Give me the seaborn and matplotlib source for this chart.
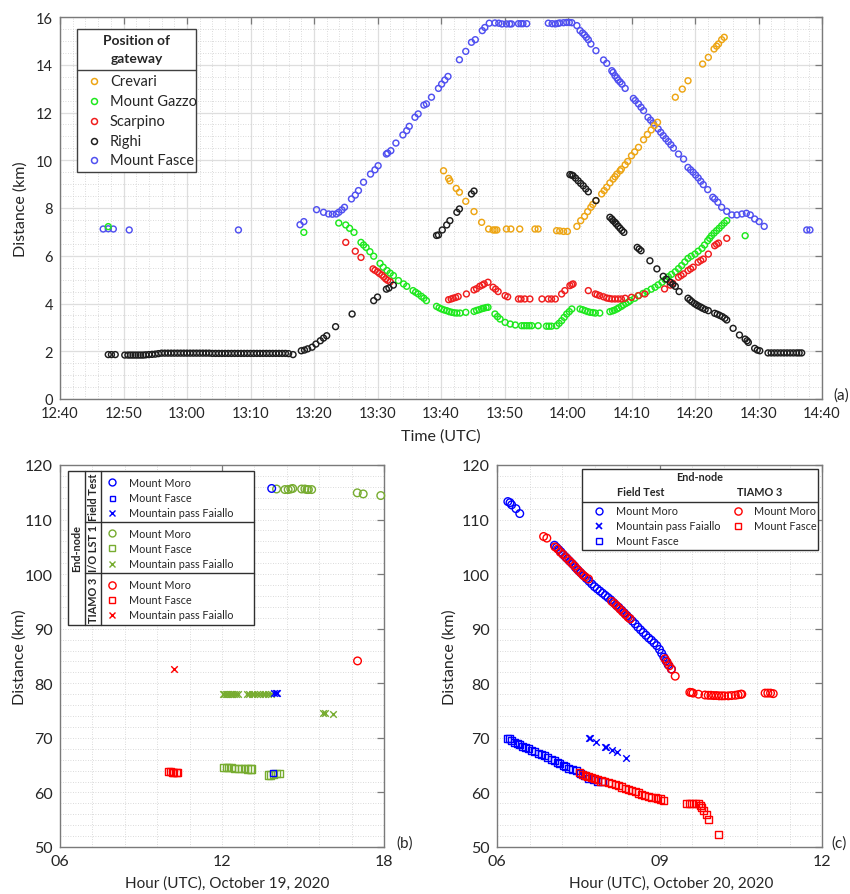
import numpy as np
import pandas as pd
import matplotlib
matplotlib.use("Agg")
import matplotlib.pyplot as plt
from matplotlib.ticker import MultipleLocator, FuncFormatter
from matplotlib.lines import Line2D
from matplotlib.patches import Rectangle
import seaborn as sns

# ---------------------------------------------------------------- data (a)
# time in minutes after 12:00 UTC, distance in km
righi_t = [47.6, 48.1, 48.7, 50.2, 50.7, 51.1, 51.5, 51.9, 52.3, 52.7, 53.1, 53.5,
           54.0, 54.5, 55.0, 55.5, 56.0, 56.5, 57.0, 57.5, 58.0, 58.5, 59.0, 59.5,
           60.0, 60.5, 61.0, 61.5, 62.0, 62.5, 63.0, 63.5, 64.0, 64.5, 65.0, 65.5,
           66.0, 66.5, 67.0, 67.5, 68.0, 68.5, 69.0, 69.5, 70.0, 70.5, 71.0, 71.5,
           72.0, 72.5, 73.0, 73.5, 74.0, 74.5, 75.0, 75.5, 76.0, 76.7,
           78.0, 78.5, 79.0, 79.7, 80.3, 81.0, 81.5, 82.0, 83.4, 86.0, 89.4, 90.0,
           91.4, 91.8, 92.5,
           99.3, 99.6, 100.2, 100.9, 101.4, 102.5, 102.9, 104.8, 105.2,
           120.3, 120.6, 120.8, 121.2, 121.6, 122.0, 122.4, 122.8, 123.2, 124.4,
           126.6, 126.9, 127.1, 127.4, 127.6, 127.9, 128.2, 128.5, 128.8,
           130.9, 131.2, 131.5, 132.9, 134.0, 135.0, 135.5, 136.1, 136.5, 136.9, 137.5,
           138.9, 139.2, 139.5, 139.9, 140.2, 140.5, 140.9, 141.2, 141.6, 142.1,
           143.1, 143.5, 143.9, 144.3, 144.7, 145.0,
           146.0, 147.0, 147.9, 148.2, 148.4, 149.4, 149.8, 150.2,
           151.5, 152.0, 152.5, 153.0, 153.5, 154.0, 154.5, 155.0, 155.5, 156.0,
           156.4, 156.8]
righi_d = [1.86, 1.86, 1.86, 1.84, 1.84, 1.84, 1.84, 1.84, 1.84, 1.84, 1.84, 1.85,
           1.86, 1.87, 1.88, 1.90, 1.92, 1.92, 1.92, 1.92, 1.92, 1.92, 1.92, 1.92,
           1.92, 1.92, 1.92, 1.92, 1.92, 1.92, 1.92, 1.92, 1.91, 1.91, 1.91, 1.91,
           1.91, 1.91, 1.91, 1.91, 1.91, 1.91, 1.91, 1.91, 1.91, 1.91, 1.91, 1.91,
           1.91, 1.91, 1.91, 1.91, 1.91, 1.91, 1.91, 1.91, 1.90, 1.86,
           2.02, 2.05, 2.10, 2.17, 2.30, 2.44, 2.55, 2.65, 3.03, 3.56, 4.12, 4.27,
           4.60, 4.65, 4.77,
           6.85, 6.87, 7.08, 7.29, 7.47, 7.82, 7.96, 8.59, 8.71,
           9.40, 9.38, 9.35, 9.25, 9.14, 9.03, 8.93, 8.80, 8.68, 8.31,
           7.61, 7.54, 7.47, 7.40, 7.33, 7.24, 7.15, 7.06, 6.98,
           6.35, 6.28, 6.21, 5.79, 5.45, 5.14, 5.02, 4.89, 4.80, 4.72, 4.50,
           4.22, 4.15, 4.08, 4.00, 3.95, 3.90, 3.85, 3.80, 3.75, 3.70,
           3.59, 3.55, 3.50, 3.45, 3.38, 3.31,
           2.96, 2.68, 2.51, 2.44, 2.37, 2.12, 2.05, 2.02,
           1.93, 1.93, 1.93, 1.93, 1.93, 1.93, 1.93, 1.93, 1.93, 1.93,
           1.93, 1.93]

fasce_t = [46.8, 47.6, 48.4, 50.9, 68.1, 77.8, 78.4, 80.4, 81.5, 82.3, 82.9, 83.5,
           83.9, 84.4, 84.8, 85.9, 86.5, 87.0, 87.8, 88.9, 89.6, 90.1, 91.4, 91.6,
           92.1, 92.9, 94.0, 94.6, 95.0, 95.9, 96.4, 97.3, 97.7, 98.5, 99.6, 100.1,
           100.6, 101.1, 102.9, 103.9, 104.8, 105.4, 106.5, 106.9, 107.6, 108.5,
           109.1, 109.6, 110.3, 110.8, 111.1, 112.2, 112.6, 112.9, 113.5,
           116.9, 117.5, 118.0, 118.4, 118.7, 119.3, 119.8, 120.2, 120.6,
           121.4, 121.9, 122.3, 122.6, 122.9, 123.2, 123.6, 124.4, 125.6, 126.1,
           126.9, 127.1, 127.4, 127.7, 127.9, 128.2, 128.5, 129.0,
           130.3, 130.6, 131.1, 131.5, 131.9, 132.6, 133.0, 133.4, 134.2, 134.6,
           135.0, 135.4, 135.8, 136.2, 136.6, 137.4, 138.2, 138.9, 139.3, 139.7,
           140.1, 140.5, 140.9, 141.3, 142.0, 142.8, 143.1, 143.6, 144.2, 145.0,
           145.8, 146.6, 147.4, 148.1, 148.7, 149.4, 150.1, 150.9, 157.6, 158.1]
fasce_d = [7.12, 7.13, 7.12, 7.08, 7.08, 7.30, 7.43, 7.93, 7.82, 7.75, 7.74, 7.75,
           7.82, 7.92, 8.03, 8.38, 8.54, 8.73, 9.08, 9.42, 9.60, 9.77, 10.26, 10.30,
           10.40, 10.72, 11.06, 11.24, 11.42, 11.80, 11.94, 12.31, 12.36, 12.64, 13.01, 13.19,
           13.36, 13.51, 14.21, 14.56, 14.94, 15.05, 15.43, 15.56, 15.74, 15.75,
           15.74, 15.71, 15.71, 15.71, 15.71, 15.72, 15.72, 15.72, 15.72,
           15.74, 15.72, 15.71, 15.73, 15.75, 15.76, 15.77, 15.77, 15.76,
           15.64, 15.43, 15.33, 15.25, 15.15, 15.05, 14.87, 14.59, 14.20, 14.06,
           13.75, 13.68, 13.54, 13.45, 13.36, 13.28, 13.19, 13.01,
           12.59, 12.50, 12.36, 12.22, 12.08, 11.80, 11.68, 11.56, 11.31, 11.17,
           11.03, 10.90, 10.78, 10.65, 10.51, 10.26, 10.05, 9.70, 9.60, 9.50,
           9.38, 9.26, 9.12, 8.98, 8.77, 8.45, 8.38, 8.24, 8.03, 7.86,
           7.71, 7.71, 7.75, 7.78, 7.71, 7.54, 7.43, 7.23, 7.08, 7.08]

crevari_t = [100.4, 101.2, 101.4, 102.4, 102.9, 103.9, 105.2, 106.4, 107.5, 108.2,
             108.5, 108.8, 110.3, 111.0, 112.4, 114.8, 115.3, 118.2, 118.7, 119.3,
             119.9, 121.4, 122.0, 122.6, 123.1, 123.6, 123.9, 124.4, 125.3, 125.7,
             126.1, 126.6, 127.1, 127.4, 127.7, 128.2, 128.4, 129.0, 129.4, 130.0,
             130.5, 131.1, 131.9, 132.5, 133.1, 133.6, 134.1,
             136.9, 138.0, 138.9, 141.2, 142.1, 143.0, 143.4, 143.7, 144.2, 144.6]
crevari_d = [9.56, 9.24, 9.14, 8.82, 8.66, 8.28, 7.85, 7.40, 7.12, 7.08,
             7.08, 7.08, 7.12, 7.12, 7.12, 7.12, 7.12, 7.05, 7.04, 7.02,
             7.02, 7.23, 7.47, 7.65, 7.85, 8.03, 8.15, 8.31, 8.59, 8.73,
             8.87, 9.05, 9.21, 9.31, 9.42, 9.56, 9.63, 9.81, 9.95, 10.19,
             10.35, 10.54, 10.86, 11.08, 11.27, 11.45, 11.59,
             12.64, 12.98, 13.33, 14.03, 14.31, 14.66, 14.78, 14.87, 15.05, 15.15]

gazzo_t = [47.6, 78.4, 83.9, 85.0, 85.6, 86.3, 87.4, 87.8, 88.2, 88.8, 89.4, 90.4,
           90.9, 91.5, 92.0, 92.5, 93.3, 94.1, 94.6, 95.6, 96.0, 96.4, 96.9, 97.3,
           97.7, 99.3, 99.7, 100.1, 100.5, 100.9, 101.3, 101.7, 102.1, 102.5, 103.0,
           103.9, 105.2, 105.6, 106.0, 106.4, 106.7, 107.1, 107.4, 108.5, 108.9,
           109.3, 110.1, 110.9, 111.7, 112.7, 113.1, 113.5, 113.9, 114.3, 115.3,
           116.6, 117.0, 117.4, 118.2, 118.6, 119.0, 119.4, 119.8, 120.2, 120.6,
           121.9, 122.3, 122.7, 123.1, 123.5, 123.9, 124.3, 125.0,
           126.6, 127.0, 127.3, 127.7, 128.0, 128.4, 128.7, 129.1, 129.5, 129.8,
           130.5, 131.1, 131.8, 132.4, 133.1, 133.7, 134.2, 134.8, 135.3, 135.8,
           136.3, 136.9, 137.4, 137.9, 138.4, 138.9, 139.4, 140.0, 140.5, 141.1,
           141.5, 142.0, 142.3, 142.6, 143.0, 143.4, 143.8, 144.2, 144.6, 145.0,
           147.9]
gazzo_d = [7.22, 6.98, 7.37, 7.29, 7.15, 6.98, 6.56, 6.45, 6.35, 6.17, 5.98, 5.68,
           5.52, 5.38, 5.27, 5.17, 4.96, 4.82, 4.72, 4.54, 4.47, 4.40, 4.30, 4.22,
           4.12, 3.88, 3.82, 3.77, 3.73, 3.70, 3.66, 3.63, 3.61, 3.60, 3.60,
           3.63, 3.67, 3.71, 3.74, 3.78, 3.80, 3.83, 3.84, 3.56, 3.45,
           3.35, 3.21, 3.14, 3.10, 3.07, 3.07, 3.07, 3.07, 3.07, 3.07,
           3.05, 3.05, 3.05, 3.07, 3.17, 3.28, 3.42, 3.56, 3.66, 3.77,
           3.77, 3.74, 3.70, 3.66, 3.63, 3.62, 3.60, 3.60,
           3.66, 3.69, 3.72, 3.77, 3.82, 3.88, 3.94, 4.00, 4.06, 4.12,
           4.22, 4.33, 4.42, 4.50, 4.60, 4.68, 4.78, 4.89, 5.00, 5.12,
           5.22, 5.33, 5.46, 5.59, 5.74, 5.89, 5.98, 6.07, 6.19, 6.31,
           6.45, 6.63, 6.73, 6.84, 6.95, 7.05, 7.15, 7.26, 7.37, 7.47,
           6.84]

scarpino_t = [85.0, 86.5, 87.4, 89.3, 89.6, 90.0, 90.3, 90.7, 91.0, 91.3, 91.6, 92.0,
              101.2, 101.6, 101.9, 102.3, 102.7, 104.0, 105.2, 105.6, 106.1, 106.5,
              106.8, 107.4, 108.2, 108.6, 109.0, 110.1, 110.5, 112.2, 112.6, 113.2,
              114.0, 115.9, 116.9, 117.4, 118.0, 119.0, 119.5, 120.3, 120.6, 120.8,
              123.2, 124.3, 124.6, 125.0, 125.6, 126.1, 126.5, 126.9, 127.4, 127.9,
              128.4, 129.0, 130.0, 131.1, 132.1,
              135.2, 136.1, 136.5, 137.4, 137.8, 138.2, 138.9, 139.3, 139.7, 140.5,
              140.9, 141.3, 142.1, 143.1, 143.4, 143.7, 145.0]
scarpino_d = [6.56, 6.19, 5.93, 5.45, 5.39, 5.33, 5.26, 5.19, 5.11, 5.03, 4.97, 4.91,
              4.16, 4.19, 4.22, 4.25, 4.29, 4.40, 4.57, 4.62, 4.72, 4.77,
              4.82, 4.89, 4.68, 4.60, 4.50, 4.33, 4.28, 4.19, 4.19, 4.19,
              4.19, 4.19, 4.19, 4.19, 4.19, 4.40, 4.54, 4.75, 4.79, 4.82,
              4.54, 4.40, 4.37, 4.33, 4.28, 4.23, 4.21, 4.19, 4.19, 4.19,
              4.19, 4.22, 4.26, 4.33, 4.40,
              4.61, 4.77, 4.85, 5.10, 5.17, 5.24, 5.38, 5.45, 5.52, 5.73,
              5.80, 5.86, 6.07, 6.42, 6.48, 6.53, 6.73]

gateways = ["Crevari", "Mount Gazzo", "Scarpino", "Righi", "Mount Fasce"]
gateway_colors = {"Crevari": "#EDA514", "Mount Gazzo": "#1EE81E",
                  "Scarpino": "#F01E1E", "Righi": "#1E1E1E", "Mount Fasce": "#5050F0"}

# ---------------------------------------------------------------- data (b)
# hour (UTC) of October 19, distance in km
b_ft_moro_h, b_ft_moro_d = [13.84], [115.7]
b_ft_fasce_h, b_ft_fasce_d = [13.90], [63.6]
b_ft_faiallo_h, b_ft_faiallo_d = [13.93, 14.00, 14.05], [78.2, 78.3, 78.2]

b_io_moro_h = [14.02, 14.33, 14.45, 14.55, 14.62, 14.95, 15.07, 15.15, 15.20, 15.32,
               17.01, 17.23, 17.88]
b_io_moro_d = [115.6, 115.5, 115.5, 115.6, 115.7, 115.6, 115.6, 115.5, 115.5, 115.5,
               114.9, 114.7, 114.4]
b_io_fasce_h = [12.07, 12.15, 12.25, 12.35, 12.45, 12.60, 12.72, 12.85, 12.95, 13.05,
                13.10, 13.72, 13.80, 13.90, 14.00, 14.12]
b_io_fasce_d = [64.5, 64.5, 64.5, 64.5, 64.4, 64.4, 64.4, 64.4, 64.3, 64.3,
                64.3, 63.2, 63.2, 63.3, 63.4, 63.4]
b_io_faiallo_h = [12.03, 12.08, 12.13, 12.18, 12.23, 12.28, 12.33, 12.38, 12.45, 12.52,
                  12.60, 12.91, 13.00, 13.10, 13.20, 13.30, 13.40, 13.50, 13.60, 13.70,
                  13.80, 15.73, 15.80, 16.10]
b_io_faiallo_d = [78.1, 78.1, 78.1, 78.1, 78.1, 78.1, 78.1, 78.1, 78.1, 78.1,
                  78.1, 78.0, 78.0, 78.0, 78.0, 78.0, 78.0, 78.0, 78.0, 78.0,
                  78.0, 74.6, 74.6, 74.4]

b_tm_moro_h, b_tm_moro_d = [17.02], [84.1]
b_tm_fasce_h = [10.01, 10.08, 10.15, 10.22, 10.30, 10.34]
b_tm_fasce_d = [63.8, 63.8, 63.7, 63.7, 63.6, 63.6]
b_tm_faiallo_h, b_tm_faiallo_d = [10.23], [82.7]

# ---------------------------------------------------------------- data (c)
# hour (UTC) of October 20, distance in km
c_ft_moro_h = [6.20, 6.24, 6.27, 6.35, 6.42,
               7.06, 7.10, 7.14, 7.18, 7.22, 7.26, 7.30, 7.35, 7.40, 7.45, 7.50, 7.55,
               7.60, 7.65, 7.70, 7.75, 7.80, 7.85, 7.90, 7.95, 8.00, 8.05, 8.10, 8.15,
               8.20, 8.25, 8.30, 8.35, 8.40, 8.45, 8.50, 8.55, 8.60, 8.65, 8.70, 8.75,
               8.80, 8.85, 8.90, 8.95, 9.00, 9.04, 9.08, 9.12, 9.16, 9.22]
c_ft_moro_d = [113.3, 113.1, 112.7, 112.0, 111.1,
               105.3, 104.9, 104.5, 104.1, 103.6, 103.2, 102.8, 102.3, 101.8, 101.2, 100.7, 100.2,
               99.7, 99.2, 98.7, 98.2, 97.7, 97.3, 96.9, 96.5, 96.1, 95.7, 95.3, 94.8,
               94.3, 93.9, 93.4, 92.9, 92.4, 91.9, 91.4, 90.9, 90.3, 89.8, 89.3, 88.8,
               88.3, 87.9, 87.4, 86.9, 86.2, 85.5, 84.8, 84.1, 83.4, 82.6]
c_ft_faiallo_h = [7.69, 7.71, 7.82, 7.99, 8.02, 8.12, 8.21, 8.39]
c_ft_faiallo_d = [69.9, 70.0, 69.2, 68.4, 68.3, 67.7, 67.4, 66.3]
c_ft_fasce_h = [6.20, 6.23, 6.27, 6.32, 6.37, 6.42, 6.47, 6.52, 6.58, 6.64, 6.70, 6.76,
                6.82, 6.88, 6.94, 7.01, 7.06, 7.11, 7.16, 7.22, 7.27, 7.32, 7.40, 7.47,
                7.55, 7.62, 7.69, 7.78, 7.86, 7.94]
c_ft_fasce_d = [69.9, 69.8, 69.5, 69.2, 68.9, 68.7, 68.5, 68.3, 68.0, 67.7, 67.5, 67.2,
                66.9, 66.7, 66.4, 66.1, 65.8, 65.5, 65.3, 65.0, 64.7, 64.4, 64.2, 64.0,
                63.5, 63.1, 62.6, 62.3, 62.1, 62.0]

c_tm_moro_h = [6.86, 6.92,
               7.07, 7.12, 7.17, 7.22, 7.28, 7.33, 7.38, 7.43, 7.48, 7.53, 7.58, 7.63, 7.69,
               8.12, 8.17, 8.22, 8.27, 8.32, 8.37, 8.42, 8.46,
               9.10, 9.14, 9.18, 9.22, 9.29,
               9.56, 9.59, 9.62, 9.72, 9.84, 9.90, 9.95, 10.00, 10.05, 10.10, 10.15,
               10.20, 10.27, 10.33, 10.40, 10.45, 10.50, 10.52,
               10.95, 11.00, 11.05, 11.10]
c_tm_moro_d = [106.9, 106.6,
               105.0, 104.6, 104.0, 103.6, 103.0, 102.5, 102.0, 101.5, 100.9, 100.4, 99.9, 99.5, 99.1,
               95.0, 94.6, 94.1, 93.6, 93.1, 92.6, 92.1, 91.8,
               84.5, 83.9, 83.2, 82.6, 81.3,
               78.35, 78.3, 78.2, 78.0, 77.85, 77.8, 77.8, 77.75, 77.75, 77.7, 77.7,
               77.7, 77.7, 77.75, 77.8, 77.9, 78.0, 78.0,
               78.2, 78.2, 78.2, 78.1]
c_tm_fasce_h = [7.53, 7.58, 7.63, 7.68, 7.74, 7.80, 7.86, 7.92, 7.99, 8.06, 8.12, 8.18,
                8.24, 8.30, 8.37, 8.43, 8.49, 8.55, 8.61, 8.67, 8.73, 8.80, 8.86, 8.92,
                8.97, 9.02, 9.07,
                9.50, 9.55, 9.60, 9.66, 9.72, 9.75, 9.78, 9.81, 9.86, 9.90, 10.09]
c_tm_fasce_d = [63.6, 63.3, 63.1, 62.9, 62.7, 62.5, 62.3, 62.1, 62.0, 61.9, 61.6, 61.4,
                61.2, 61.0, 60.8, 60.5, 60.3, 60.1, 59.9, 59.7, 59.5, 59.3, 59.1, 59.0,
                58.9, 58.8, 58.6,
                57.9, 57.9, 57.9, 57.9, 57.9, 57.6, 57.3, 56.7, 56.0, 55.1, 52.3]

BLUE, GREEN, RED = "#0000FF", "#77AC30", "#FF0000"

# ---------------------------------------------------------------- style
sns.set_style("white")
plt.rcParams["font.family"] = ["Lato", "DejaVu Sans"]
plt.rcParams["text.color"] = "#262626"
plt.rcParams["axes.labelcolor"] = "#262626"
TXT = "#262626"
SPINE = "#7a7a7a"

fig = plt.figure(figsize=(8.5, 8.95), dpi=100)
W, H = 850.0, 895.0


def px_axes(x0, y0, x1, y1):
    return fig.add_axes([x0 / W, 1 - y1 / H, (x1 - x0) / W, (y1 - y0) / H])


def hollow(ax, x, y, color, marker="o", s=17, lw=1.0, zorder=3):
    df = pd.DataFrame({"x": x, "y": y})
    if marker == "x":
        sns.scatterplot(data=df, x="x", y="y", ax=ax, marker="x", color=color,
                        s=s, linewidth=lw, legend=False, zorder=zorder, clip_on=False)
    else:
        sns.scatterplot(data=df, x="x", y="y", ax=ax, marker=marker, color=color,
                        facecolor="none", edgecolor=color, s=s, linewidth=lw,
                        legend=False, zorder=zorder, clip_on=False)


def frame(ax):
    for sp in ax.spines.values():
        sp.set_color(SPINE)
        sp.set_linewidth(1.0)
    ax.tick_params(which="major", direction="in", length=5, width=0.9, color=SPINE,
                   top=True, right=True, labelsize=10.5, labelcolor=TXT, pad=5)
    ax.tick_params(which="minor", length=0, top=True, right=True)
    ax.set_axisbelow(True)


# ---------------------------------------------------------------- panel (a)
ax_a = px_axes(60, 18, 822, 400)
for g, t, d in [("Mount Fasce", fasce_t, fasce_d), ("Crevari", crevari_t, crevari_d),
                ("Mount Gazzo", gazzo_t, gazzo_d), ("Scarpino", scarpino_t, scarpino_d),
                ("Righi", righi_t, righi_d)]:
    hollow(ax_a, t, d, gateway_colors[g], s=18, lw=1.05)

ax_a.set_xlim(40, 160)
ax_a.set_ylim(0, 16)
ax_a.xaxis.set_major_locator(MultipleLocator(10))
ax_a.xaxis.set_minor_locator(MultipleLocator(2))
ax_a.yaxis.set_major_locator(MultipleLocator(2))
ax_a.yaxis.set_minor_locator(MultipleLocator(0.5))
ax_a.xaxis.set_major_formatter(FuncFormatter(
    lambda v, p: f"{12 + int(v) // 60:02d}:{int(v) % 60:02d}"))
ax_a.grid(which="major", color="#dedede", linewidth=0.9, linestyle="-")
ax_a.grid(which="minor", color="#cfcfcf", linewidth=0.6, linestyle=(0, (1, 2)))
frame(ax_a)
ax_a.set_xlabel("Time (UTC)", fontsize=11.5)
ax_a.set_ylabel("Distance (km)", fontsize=11.5)
ax_a.xaxis.set_label_coords(0.5, -0.076)
ax_a.yaxis.set_label_coords(-0.042, 0.5)

# legend of panel (a)
tr = ax_a.transAxes
ax_a.add_patch(Rectangle((0.0223, 0.5942), 0.1562, 0.3744, transform=tr,
                         facecolor="white", edgecolor="#404040", linewidth=1.0, zorder=10))
ax_a.add_line(Line2D([0.0223, 0.1785], [0.8613, 0.8613], transform=tr,
                     color="#404040", linewidth=1.0, zorder=11))
ax_a.text(0.1004, 0.916, "Position of\ngateway", transform=tr, ha="center", va="center",
          fontsize=10, fontweight="bold", linespacing=1.55, zorder=12)
for yy, g in zip([0.8325, 0.780, 0.7277, 0.6754, 0.6257], gateways):
    ax_a.plot([0.0442], [yy], transform=tr, marker="o", markersize=4.3, linestyle="none",
              markerfacecolor="none", markeredgecolor=gateway_colors[g],
              markeredgewidth=1.1, zorder=12, clip_on=False)
    ax_a.text(0.0656, yy, g, transform=tr, ha="left", va="center", fontsize=10.5, zorder=12)

fig.text(841 / W, 1 - 396 / H, "(a)", ha="center", va="center", fontsize=11, color=TXT)

# ---------------------------------------------------------------- panel (b)
ax_b = px_axes(60, 466, 384, 848)
hollow(ax_b, b_io_moro_h, b_io_moro_d, GREEN, "o", s=30)
hollow(ax_b, b_io_fasce_h, b_io_fasce_d, GREEN, "s", s=26)
hollow(ax_b, b_io_faiallo_h, b_io_faiallo_d, GREEN, "x", s=22)
hollow(ax_b, b_tm_moro_h, b_tm_moro_d, RED, "o", s=30)
hollow(ax_b, b_tm_fasce_h, b_tm_fasce_d, RED, "s", s=26)
hollow(ax_b, b_tm_faiallo_h, b_tm_faiallo_d, RED, "x", s=22)
hollow(ax_b, b_ft_moro_h, b_ft_moro_d, BLUE, "o", s=30)
hollow(ax_b, b_ft_fasce_h, b_ft_fasce_d, BLUE, "s", s=18)
hollow(ax_b, b_ft_faiallo_h, b_ft_faiallo_d, BLUE, "x", s=22)

# ---------------------------------------------------------------- panel (c)
ax_c = px_axes(497, 466, 822, 848)
hollow(ax_c, c_ft_moro_h, c_ft_moro_d, BLUE, "o", s=30)
hollow(ax_c, c_ft_fasce_h, c_ft_fasce_d, BLUE, "s", s=26)
hollow(ax_c, c_tm_moro_h, c_tm_moro_d, RED, "o", s=30)
hollow(ax_c, c_tm_fasce_h, c_tm_fasce_d, RED, "s", s=26)
hollow(ax_c, c_ft_faiallo_h, c_ft_faiallo_d, BLUE, "x", s=22)

for ax, (x0, x1), step, minor in [(ax_b, (6, 18), 6, 1.2), (ax_c, (6, 12), 3, 0.6)]:
    ax.set_xlim(x0, x1)
    ax.set_ylim(50, 120)
    ax.xaxis.set_major_locator(MultipleLocator(step))
    ax.xaxis.set_minor_locator(MultipleLocator(minor))
    ax.yaxis.set_major_locator(MultipleLocator(10))
    ax.yaxis.set_minor_locator(MultipleLocator(2))
    ax.xaxis.set_major_formatter(FuncFormatter(lambda v, p: f"{int(round(v)):02d}"))
    ax.grid(which="both", color="#cfcfcf", linewidth=0.6, linestyle=(0, (1, 2)))
    frame(ax)
    ax.tick_params(which="major", labelsize=11.5)

ax_b.set_xlabel("Hour (UTC), October 19, 2020", fontsize=11)
ax_b.set_ylabel("Distance (km)", fontsize=11.5)
ax_b.xaxis.set_label_coords(0.515, -0.073)
ax_b.yaxis.set_label_coords(-0.102, 0.5)
ax_c.set_xlabel("Hour (UTC), October 20, 2020", fontsize=11)
ax_c.set_ylabel("Distance (km)", fontsize=11.5)
ax_c.xaxis.set_label_coords(0.535, -0.073)
ax_c.yaxis.set_label_coords(-0.123, 0.5)

fig.text(405 / W, 1 - 844 / H, "(b)", ha="center", va="center", fontsize=11, color=TXT)
fig.text(839 / W, 1 - 844 / H, "(c)", ha="center", va="center", fontsize=11, color=TXT)


# ---------------------------------------------------------------- legend of panel (b)
def bx(x):
    return (x - 60) / 324.0


def by(y):
    return 1 - (y - 466) / 382.0


LEG_FS = 7.8
trb = ax_b.transAxes
ax_b.add_patch(Rectangle((bx(68), by(626)), bx(254) - bx(68), by(472) - by(626),
                         transform=trb, facecolor="white", edgecolor="#303030",
                         linewidth=1.0, zorder=10))
for xv in (85, 101):
    ax_b.add_line(Line2D([bx(xv), bx(xv)], [by(626), by(472)], transform=trb,
                         color="#303030", linewidth=1.0, zorder=11))
for yv in (522.7, 574.3):
    ax_b.add_line(Line2D([bx(85), bx(254)], [by(yv), by(yv)], transform=trb,
                         color="#303030", linewidth=1.0, zorder=11))
ax_b.text(bx(76.5), by(549), "End-node", transform=trb, rotation=90, ha="center",
          va="center", fontsize=LEG_FS, fontweight="bold", zorder=12)
for yc, lab in [(497.5, "Field Test"), (548.5, "I/O LST 1"), (600, "TIAMO 3")]:
    ax_b.text(bx(93.5), by(yc), lab, transform=trb, rotation=90, ha="center",
              va="center", fontsize=LEG_FS, fontweight="bold", zorder=12)
b_rows = [
    (483.3, BLUE, "o", 5.0, "Mount Moro"), (498.7, BLUE, "s", 3.6, "Mount Fasce"),
    (513.7, BLUE, "x", 5.0, "Mountain pass Faiallo"),
    (534.0, GREEN, "o", 5.0, "Mount Moro"), (549.3, GREEN, "s", 5.0, "Mount Fasce"),
    (564.7, GREEN, "x", 4.5, "Mountain pass Faiallo"),
    (585.7, RED, "o", 5.2, "Mount Moro"), (600.7, RED, "s", 5.0, "Mount Fasce"),
    (615.7, RED, "x", 4.5, "Mountain pass Faiallo"),
]
for yv, col, mk, ms, lab in b_rows:
    if mk == "x":
        ax_b.plot([bx(112.3)], [by(yv)], transform=trb, marker="x", markersize=ms,
                  color=col, markeredgewidth=1.0, linestyle="none", zorder=12, clip_on=False)
    else:
        ax_b.plot([bx(112.3)], [by(yv)], transform=trb, marker=mk, markersize=ms,
                  markerfacecolor="none", markeredgecolor=col, markeredgewidth=1.0,
                  linestyle="none", zorder=12, clip_on=False)
    ax_b.text(bx(129.3), by(yv), lab, transform=trb, ha="left", va="center",
              fontsize=LEG_FS, zorder=12)


# ---------------------------------------------------------------- legend of panel (c)
def cx(x):
    return (x - 497) / 325.0


trc = ax_c.transAxes
ax_c.add_patch(Rectangle((cx(582), by(550.7)), cx(818) - cx(582), by(470) - by(550.7),
                         transform=trc, facecolor="white", edgecolor="#303030",
                         linewidth=1.0, zorder=10))
ax_c.add_line(Line2D([cx(582), cx(818)], [by(502.7), by(502.7)], transform=trc,
                     color="#303030", linewidth=1.0, zorder=11))
ax_c.text(cx(700), by(477.7), "End-node", transform=trc, ha="center", va="center",
          fontsize=LEG_FS, fontweight="bold", zorder=12)
ax_c.text(cx(641), by(492.3), "Field Test", transform=trc, ha="center", va="center",
          fontsize=LEG_FS, fontweight="bold", zorder=12)
ax_c.text(cx(760), by(492.3), "TIAMO 3", transform=trc, ha="center", va="center",
          fontsize=LEG_FS, fontweight="bold", zorder=12)
c_rows = [
    (599, 615.7, 511.7, BLUE, "o", 5.0, "Mount Moro"),
    (599, 615.7, 526.7, BLUE, "x", 4.0, "Mountain pass Faiallo"),
    (599, 615.7, 541.7, BLUE, "s", 4.5, "Mount Fasce"),
    (737.7, 754, 511.7, RED, "o", 5.2, "Mount Moro"),
    (737.7, 754, 526.7, RED, "s", 4.5, "Mount Fasce"),
]
for mx, lx, yv, col, mk, ms, lab in c_rows:
    if mk == "x":
        ax_c.plot([cx(mx)], [by(yv)], transform=trc, marker="x", markersize=ms,
                  color=col, markeredgewidth=1.2, linestyle="none", zorder=12, clip_on=False)
    else:
        ax_c.plot([cx(mx)], [by(yv)], transform=trc, marker=mk, markersize=ms,
                  markerfacecolor="none", markeredgecolor=col, markeredgewidth=1.0,
                  linestyle="none", zorder=12, clip_on=False)
    ax_c.text(cx(lx), by(yv), lab, transform=trc, ha="left", va="center",
              fontsize=LEG_FS, zorder=12)

fig.savefig("out.png", dpi=100, facecolor="white")
